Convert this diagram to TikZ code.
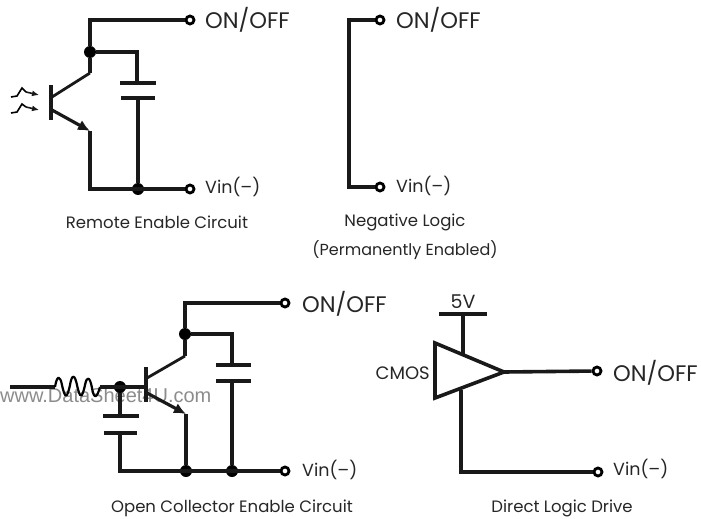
\documentclass[tikz,border=0pt]{standalone}
\usepackage{fontspec}
\setmainfont{Poppins}
\newfontfamily\wmfont{Liberation Sans}
\usetikzlibrary{arrows.meta}
\tikzset{
 wire/.style={line width=3.6pt,black!90},
 thin wire/.style={line width=2.8pt,black!90},
 plate/.style={line width=3.2pt,black!90},
 term/.style={circle,draw=black,line width=2.8pt,fill=white,inner sep=0pt,minimum size=8pt},
 dotj/.style={circle,fill=black,inner sep=0pt,minimum size=12pt},
 big/.style={inner sep=0pt,font=\fontsize{22.5}{22.5}\selectfont,anchor=west,text=black!85},
 vin/.style={inner sep=0pt,font=\fontsize{17.5}{17.5}\selectfont,anchor=west,text=black!85},
 mid/.style={inner sep=0pt,font=\fontsize{16.5}{16.5}\selectfont,text=black!85},
 emit/.style={line width=3.2pt,black!90,-{Latex[length=12pt,width=11pt]}},
 lightarrow/.style={line width=1.6pt,black!90,-{Latex[length=7pt,width=6pt]}},
 watermark/.style={inner sep=0pt,font=\wmfont\fontsize{20}{20}\selectfont,text=black!45}
}
\begin{document}
\begin{tikzpicture}[x=1pt,y=-1pt]
\useasboundingbox (0,0) rectangle (701,519);
% watermark
\node[watermark,anchor=west] (wm) at (0,395) {www.DataSheet4U.com};
% Panel 1
\node[term] (t1a) at (190,20) {};
\node[term] (t1b) at (190,189) {};
\node[dotj] (j1a) at (90,52) {};
\node[dotj] (j1b) at (138,189) {};
\coordinate (c1a) at (90,20);
\coordinate (c1b) at (90,73);
\coordinate (e1a) at (90,131);
\coordinate (e1b) at (90,189);
\coordinate (p1a) at (137,52);
\draw[wire] (t1a) -- (c1a) -- (j1a) -- (c1b);
\draw[wire] (j1a) -- (p1a) -- (137,83);
\draw[plate] (120,83) -- (156,83);
\draw[plate] (121,98) -- (155,98);
\draw[wire] (138,98) -- (j1b);
\draw[wire,line join=miter] (t1b) -- (e1b) -- (e1a);
\draw[wire] (51,85) -- (51,120);
\draw[thin wire] (52,97) -- (c1b);
\draw[emit] (52,110) -- (e1a);
\draw[line width=1.6pt] (11,97) -- (17,96) -- (22,88) -- (26,92);
\draw[lightarrow] (26,92) -- (39,95);
\draw[line width=1.6pt] (11,113) -- (17,112) -- (22,104) -- (26,107);
\draw[lightarrow] (26,107) -- (39,110);
\node[big] (l1a) at (205,20) {ON/OFF};
\node[vin] (l1b) at (205,187) {Vin(–)};
\node[mid] (cap1) at (157,222) {Remote Enable Circuit};
% Panel 2
\node[term] (t2a) at (380,20) {};
\node[term] (t2b) at (380,187) {};
\coordinate (c2a) at (349,20);
\coordinate (c2b) at (349,187);
\draw[wire] (t2a) -- (c2a) -- (c2b) -- (t2b);
\node[big] (l2a) at (396,20) {ON/OFF};
\node[vin] (l2b) at (396,186) {Vin(–)};
\node[mid] (cap2a) at (405,222) {Negative Logic};
\node[mid,font=\fontsize{16}{16}\selectfont] (cap2b) at (405,250) {(Permanently Enabled)};
% Panel 3
\node[term] (t3a) at (285,303) {};
\node[term] (t3b) at (285,471) {};
\node[dotj] (j3a) at (185,334) {};
\node[dotj] (j3b) at (120,387) {};
\node[dotj] (j3c) at (186,471) {};
\node[dotj] (j3d) at (232,471) {};
\coordinate (c3a) at (185,303);
\coordinate (c3b) at (185,356);
\coordinate (e3a) at (186,414);
\coordinate (p3a) at (232,334);
\coordinate (b3a) at (120,471);
\coordinate (in3) at (10,387);
\draw[wire] (t3a) -- (c3a) -- (j3a) -- (c3b);
\draw[wire] (j3a) -- (p3a) -- (232,365);
\draw[plate] (216,365) -- (251,365);
\draw[plate] (216,381) -- (251,381);
\draw[wire] (232,381) -- (j3d);
\draw[wire,line join=miter] (t3b) -- (b3a) -- (120,433);
\draw[plate] (103,416) -- (139,416);
\draw[plate] (104,433) -- (137,433);
\draw[wire] (j3b) -- (120,416);
\draw[wire] (j3c) -- (e3a);
\draw[wire] (146,367) -- (146,402);
\draw[thin wire] (147,378) -- (c3b);
\draw[emit] (147,393) -- (e3a);
\draw[wire] (in3) -- (55,387);
\draw[line width=2.2pt,line join=round] (55,387) .. controls (57,375) and (60,375) .. (62,385)
 .. controls (65,399) and (67,399) .. (70,385)
 .. controls (72,373) and (75,375) .. (77,385)
 .. controls (80,399) and (82,399) .. (85,385)
 .. controls (87,375) and (90,377) .. (92,388)
 .. controls (94,400) and (97,398) .. (100,387);
\draw[wire] (100,387) -- (146,387);
\node[big] (l3a) at (302,304) {ON/OFF};
\node[vin] (l3b) at (302,470) {Vin(–)};
\node[mid] (cap3) at (232,508) {Open Collector Enable Circuit};
% Panel 4
\node[term] (t4a) at (597,371) {};
\node[term] (t4b) at (598,472) {};
\coordinate (a4) at (435,343);
\coordinate (b4) at (435,398);
\coordinate (o4) at (504,372);
\coordinate (s4a) at (463,314);
\coordinate (s4b) at (463,354);
\coordinate (g4a) at (461,390);
\coordinate (g4b) at (461,472);
\draw[wire] (s4a) -- (s4b);
\draw[plate] (439,314) -- (487,314);
\draw[wire,line join=miter,fill=white] (a4) -- (o4) -- (b4) -- cycle;
\draw[wire] (o4) -- (t4a);
\draw[wire,line join=miter] (g4a) -- (g4b) -- (t4b);
\node[mid,font=\fontsize{19}{19}\selectfont] (v5) at (463,302) {5V};
\node[mid,anchor=east,font=\fontsize{18}{18}\selectfont] (cmos) at (430,373) {CMOS};
\node[big] (l4a) at (613,373) {ON/OFF};
\node[vin] (l4b) at (613,469) {Vin(–)};
\node[mid] (cap4) at (562,508) {Direct Logic Drive};
\end{tikzpicture}
\end{document}
